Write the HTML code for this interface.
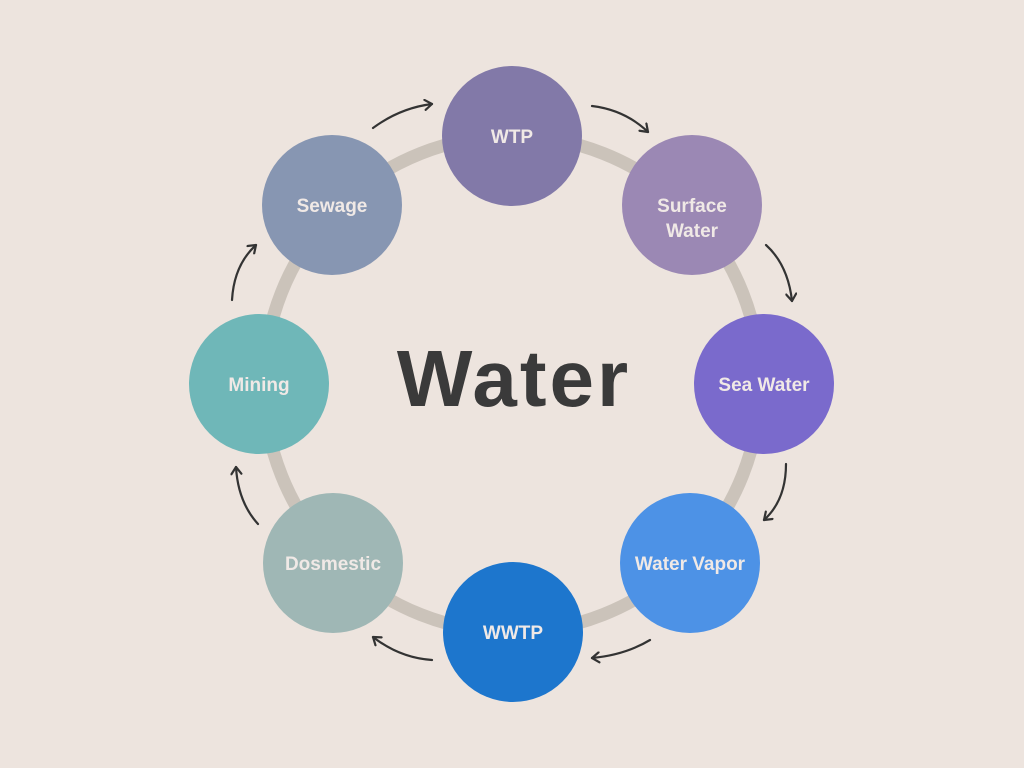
<!DOCTYPE html>
<html><head><style>
body{margin:0;background:#ede4de;}
svg{display:block}
text{font-family:"Liberation Sans",sans-serif;font-weight:bold;}
</style></head><body>
<svg width="1024" height="768" viewBox="0 0 1024 768">
<defs><marker id="a" markerWidth="12" markerHeight="12" refX="9" refY="6" orient="auto" markerUnits="userSpaceOnUse"><path d="M2,1 L9,6 L2,11" fill="none" stroke="#333" stroke-width="2.2" stroke-linecap="round" stroke-linejoin="round"/></marker></defs>
<rect width="1024" height="768" fill="#ede4de"/>
<circle cx="512" cy="384" r="248" fill="none" stroke="#cbc3ba" stroke-width="13"/>
<g fill="none" stroke="#333" stroke-width="2.2" stroke-linecap="round" marker-end="url(#a)">
<path d="M373,128 Q400,108 432,104"/>
<path d="M592,106 Q625,110 648,132"/>
<path d="M766,245 Q788,265 792,301"/>
<path d="M786,464 Q786,500 764,520"/>
<path d="M650,640 Q625,655 592,658"/>
<path d="M432,660 Q400,658 373,637"/>
<path d="M258,524 Q238,502 236,467"/>
<path d="M232,300 Q234,265 256,245"/>
</g>
<circle cx="512" cy="136" r="70" fill="#8279a8"/>
<circle cx="692" cy="205" r="70" fill="#9b88b4"/>
<circle cx="764" cy="384" r="70" fill="#7a6acc"/>
<circle cx="690" cy="563" r="70" fill="#4d92e6"/>
<circle cx="513" cy="632" r="70" fill="#1d76cd"/>
<circle cx="333" cy="563" r="70" fill="#9fb7b5"/>
<circle cx="259" cy="384" r="70" fill="#6fb7b8"/>
<circle cx="332" cy="205" r="70" fill="#8796b2"/>
<g fill="#f0e9e6" font-size="19" text-anchor="middle">
<text x="512" y="143">WTP</text>
<text x="692" y="212">Surface</text>
<text x="692" y="237">Water</text>
<text x="764" y="391">Sea Water</text>
<text x="690" y="570">Water Vapor</text>
<text x="513" y="639">WWTP</text>
<text x="333" y="570">Dosmestic</text>
<text x="259" y="391">Mining</text>
<text x="332" y="212">Sewage</text>
</g>
<text x="514" y="406" font-size="80" fill="#3a3a3a" text-anchor="middle" letter-spacing="3">Water</text>
</svg>
</body></html>
